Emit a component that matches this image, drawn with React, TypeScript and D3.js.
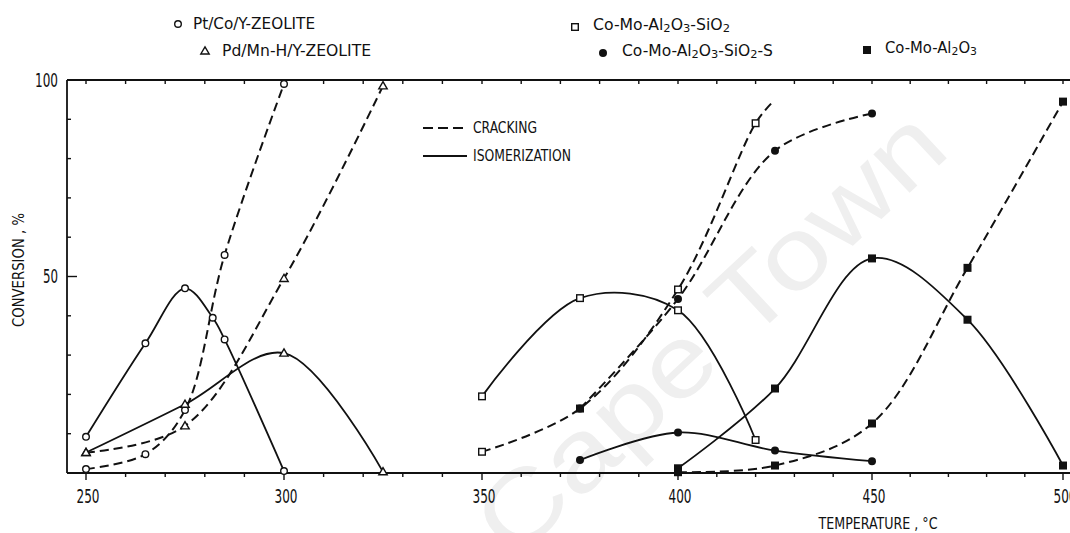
import React from "react";
import * as d3 from "d3";

// Temperature (°C) and conversion (%) readings for each catalyst.
// Pt/Co/Y-zeolite
const ptCoIsoT = [250, 265, 275, 282, 285, 300];
const ptCoIsoV = [9.2, 33, 47, 39.5, 34, 0.5];
const ptCoCrkT = [250, 265, 275, 285, 300];
const ptCoCrkV = [1, 4.8, 16, 55.5, 99];
// Pd/Mn-H/Y-zeolite
const pdMnIsoT = [250, 275, 300, 325];
const pdMnIsoV = [5.2, 17.5, 30.5, 0.3];
const pdMnCrkT = [250, 275, 300, 325];
const pdMnCrkV = [5.2, 12, 49.5, 98.5];
// Co-Mo-Al2O3-SiO2
const coMoSiIsoT = [350, 375, 400, 420];
const coMoSiIsoV = [19.5, 44.5, 41.4, 8.4];
const coMoSiCrkT = [350, 375, 400, 420, 424];
const coMoSiCrkV = [5.4, 16.4, 46.7, 89, 94];
const coMoSiCrkMarked = [350, 375, 400, 420];
// Co-Mo-Al2O3-SiO2-S
const coMoSiSIsoT = [375, 400, 425, 450];
const coMoSiSIsoV = [3.3, 10.3, 5.7, 3.0];
const coMoSiSCrkT = [375, 400, 425, 450];
const coMoSiSCrkV = [16.4, 44.3, 82, 91.5];
// Co-Mo-Al2O3
const coMoAlIsoT = [400, 425, 450, 475, 500];
const coMoAlIsoV = [1.2, 21.5, 54.6, 39, 1.9];
const coMoAlCrkT = [400, 425, 450, 475, 500];
const coMoAlCrkV = [0.2, 1.9, 12.6, 52.2, 94.5];

const xTickLabels = [250, 300, 350, 400, 450, 500];
const yTickLabels = [50, 100];

type Marker = "openCircle" | "openTriangle" | "openSquare" | "dot" | "filledSquare";

interface Series {
  temps: number[];
  values: number[];
  dashed: boolean;
  marker: Marker;
  marked?: number[];
}

const series: Series[] = [
  { temps: ptCoIsoT, values: ptCoIsoV, dashed: false, marker: "openCircle" },
  { temps: ptCoCrkT, values: ptCoCrkV, dashed: true, marker: "openCircle" },
  { temps: pdMnIsoT, values: pdMnIsoV, dashed: false, marker: "openTriangle" },
  { temps: pdMnCrkT, values: pdMnCrkV, dashed: true, marker: "openTriangle" },
  { temps: coMoSiIsoT, values: coMoSiIsoV, dashed: false, marker: "openSquare" },
  { temps: coMoSiCrkT, values: coMoSiCrkV, dashed: true, marker: "openSquare", marked: coMoSiCrkMarked },
  { temps: coMoSiSIsoT, values: coMoSiSIsoV, dashed: false, marker: "dot" },
  { temps: coMoSiSCrkT, values: coMoSiSCrkV, dashed: true, marker: "dot" },
  { temps: coMoAlIsoT, values: coMoAlIsoV, dashed: false, marker: "filledSquare" },
  { temps: coMoAlCrkT, values: coMoAlCrkV, dashed: true, marker: "filledSquare" },
];

// Catalyst names split into normal and subscript runs ("_" marks a subscript).
const nameCoMoSi = ["Co-Mo-Al", "_2", "O", "_3", "-SiO", "_2"];
const nameCoMoSiS = ["Co-Mo-Al", "_2", "O", "_3", "-SiO", "_2", "-S"];
const nameCoMoAl = ["Co-Mo-Al", "_2", "O", "_3"];

const W = 1070;
const H = 533;
const INK = "#111";
const FONT = "'DejaVu Sans Condensed', 'Liberation Sans Narrow', 'DejaVu Sans', sans-serif";
const DASH = "9,5";

// The scanned axis is slightly uneven, so the temperature scale is piecewise.
const x = d3.scaleLinear().domain(xTickLabels).range([86, 284, 482, 678, 872, 1063]);
const y = d3.scaleLinear().domain([0, 100]).range([473, 80]);
const AX_LEFT = 67;

function MarkerShape({ kind, cx, cy }: { kind: Marker; cx: number; cy: number }) {
  switch (kind) {
    case "openCircle":
      return <circle cx={cx} cy={cy} r={3.3} fill="#fff" stroke={INK} strokeWidth={1.4} />;
    case "openTriangle":
      return (
        <path
          d={`M${cx},${cy - 4.2}L${cx + 4.2},${cy + 3}L${cx - 4.2},${cy + 3}Z`}
          fill="#fff"
          stroke={INK}
          strokeWidth={1.4}
        />
      );
    case "openSquare":
      return <rect x={cx - 3.3} y={cy - 3.3} width={6.6} height={6.6} fill="#fff" stroke={INK} strokeWidth={1.4} />;
    case "dot":
      return <circle cx={cx} cy={cy} r={4} fill={INK} />;
    case "filledSquare":
      return <rect x={cx - 4} y={cy - 4} width={8} height={8} fill={INK} />;
  }
}

function LabelText(props: {
  x: number;
  y: number;
  width: number;
  size: number;
  anchor?: string;
  children: React.ReactNode;
}) {
  return (
    <text
      x={props.x}
      y={props.y}
      fontSize={props.size}
      fontFamily={FONT}
      fill={INK}
      textAnchor={props.anchor || "start"}
      dominantBaseline="middle"
      textLength={props.width}
      lengthAdjust="spacingAndGlyphs"
    >
      {props.children}
    </text>
  );
}

// Renders runs with subscripts by shifting dy down for a subscript and back up after it.
function RichName({ parts }: { parts: string[] }) {
  let shifted = false;
  return (
    <>
      {parts.map((p, i) => {
        const isSub = p.startsWith("_");
        const dy = isSub && !shifted ? 4 : !isSub && shifted ? -4 : 0;
        shifted = isSub;
        return (
          <tspan key={i} dy={dy} fontSize={isSub ? 11 : 15}>
            {isSub ? p.slice(1) : p}
          </tspan>
        );
      })}
    </>
  );
}

export default function App() {
  const line = d3
    .line<[number, number]>()
    .x((d) => x(d[0]))
    .y((d) => y(d[1]))
    .curve(d3.curveCatmullRom.alpha(0.5));

  const xMinor = d3.range(250, 501, 10);
  const yMinor = d3.range(10, 100, 10);

  return (
    <svg
      width={W}
      height={H}
      viewBox={`0 0 ${W} ${H}`}
      style={{ position: "absolute", left: 0, top: 0, background: "#fff" }}
    >
      <rect width={W} height={H} fill="#fff" />

      {/* faint watermark */}
      <text
        x={715}
        y={338}
        fontSize={100}
        fontFamily="'Liberation Sans', Arial, sans-serif"
        fill="#efefef"
        textAnchor="middle"
        dominantBaseline="middle"
        transform="rotate(-43 715 338)"
        textLength={600}
        lengthAdjust="spacingAndGlyphs"
      >
        Cape Town
      </text>

      {/* frame */}
      <g stroke={INK} strokeWidth={1.8} fill="none">
        <line x1={AX_LEFT} y1={y(0)} x2={W} y2={y(0)} />
        <line x1={AX_LEFT} y1={y(100)} x2={W} y2={y(100)} />
        <line x1={AX_LEFT} y1={y(100)} x2={AX_LEFT} y2={y(0)} />
      </g>
      <g stroke={INK} strokeWidth={1.4}>
        {xMinor.map((t) => (
          <g key={"xt" + t}>
            <line x1={x(t)} x2={x(t)} y1={y(0)} y2={y(0) + (t % 50 === 0 ? 7 : 4)} />
            <line x1={x(t)} x2={x(t)} y1={y(100)} y2={y(100) + 4} />
          </g>
        ))}
        {yMinor.map((v) => (
          <line key={"yt" + v} x1={AX_LEFT} x2={AX_LEFT + (v === 50 ? 10 : 4)} y1={y(v)} y2={y(v)} />
        ))}
      </g>

      {/* tick labels */}
      {xTickLabels.map((t) => (
        <LabelText key={"xl" + t} x={x(t) + 2} y={497} width={23} size={20} anchor="middle">
          {String(t)}
        </LabelText>
      ))}
      {yTickLabels.map((v) => (
        <LabelText key={"yl" + v} x={58} y={y(v) + 1} width={v === 100 ? 23 : 15} size={19} anchor="end">
          {String(v)}
        </LabelText>
      ))}

      {/* axis titles */}
      <g transform="translate(19 270) rotate(-90)">
        <LabelText x={0} y={0} width={114} size={16} anchor="middle">
          CONVERSION , %
        </LabelText>
      </g>
      <LabelText x={878} y={524} width={119} size={16} anchor="middle">
        TEMPERATURE , °C
      </LabelText>

      {/* curves */}
      {series.map((s, i) => (
        <path
          key={"c" + i}
          d={line(s.temps.map((t, j) => [t, s.values[j]] as [number, number])) || ""}
          fill="none"
          stroke={INK}
          strokeWidth={s.dashed ? 2 : 1.8}
          strokeDasharray={s.dashed ? DASH : undefined}
        />
      ))}
      {series.map((s, i) =>
        s.temps.map((t, j) =>
          !s.marked || s.marked.includes(t) ? (
            <MarkerShape key={`m${i}-${j}`} kind={s.marker} cx={x(t)} cy={y(s.values[j])} />
          ) : null
        )
      )}

      {/* line-style key */}
      <line x1={423} x2={467} y1={128} y2={128} stroke={INK} strokeWidth={2} strokeDasharray="10,5" />
      <LabelText x={473} y={128} width={64} size={16}>
        CRACKING
      </LabelText>
      <line x1={423} x2={467} y1={156} y2={156} stroke={INK} strokeWidth={1.8} />
      <LabelText x={473} y={156} width={98} size={16}>
        ISOMERIZATION
      </LabelText>

      {/* catalyst key */}
      <MarkerShape kind="openCircle" cx={178} cy={24} />
      <LabelText x={193} y={24} width={122} size={16}>
        Pt/Co/Y-ZEOLITE
      </LabelText>
      <MarkerShape kind="openTriangle" cx={205} cy={51} />
      <LabelText x={222} y={51} width={149} size={16}>
        Pd/Mn-H/Y-ZEOLITE
      </LabelText>

      <MarkerShape kind="openSquare" cx={575} cy={27} />
      <LabelText x={593} y={25} width={137} size={15}>
        <RichName parts={nameCoMoSi} />
      </LabelText>
      <MarkerShape kind="dot" cx={603} cy={53} />
      <LabelText x={622} y={51} width={151} size={15}>
        <RichName parts={nameCoMoSiS} />
      </LabelText>
      <MarkerShape kind="filledSquare" cx={867} cy={50} />
      <LabelText x={885} y={48} width={92} size={15}>
        <RichName parts={nameCoMoAl} />
      </LabelText>
    </svg>
  );
}
